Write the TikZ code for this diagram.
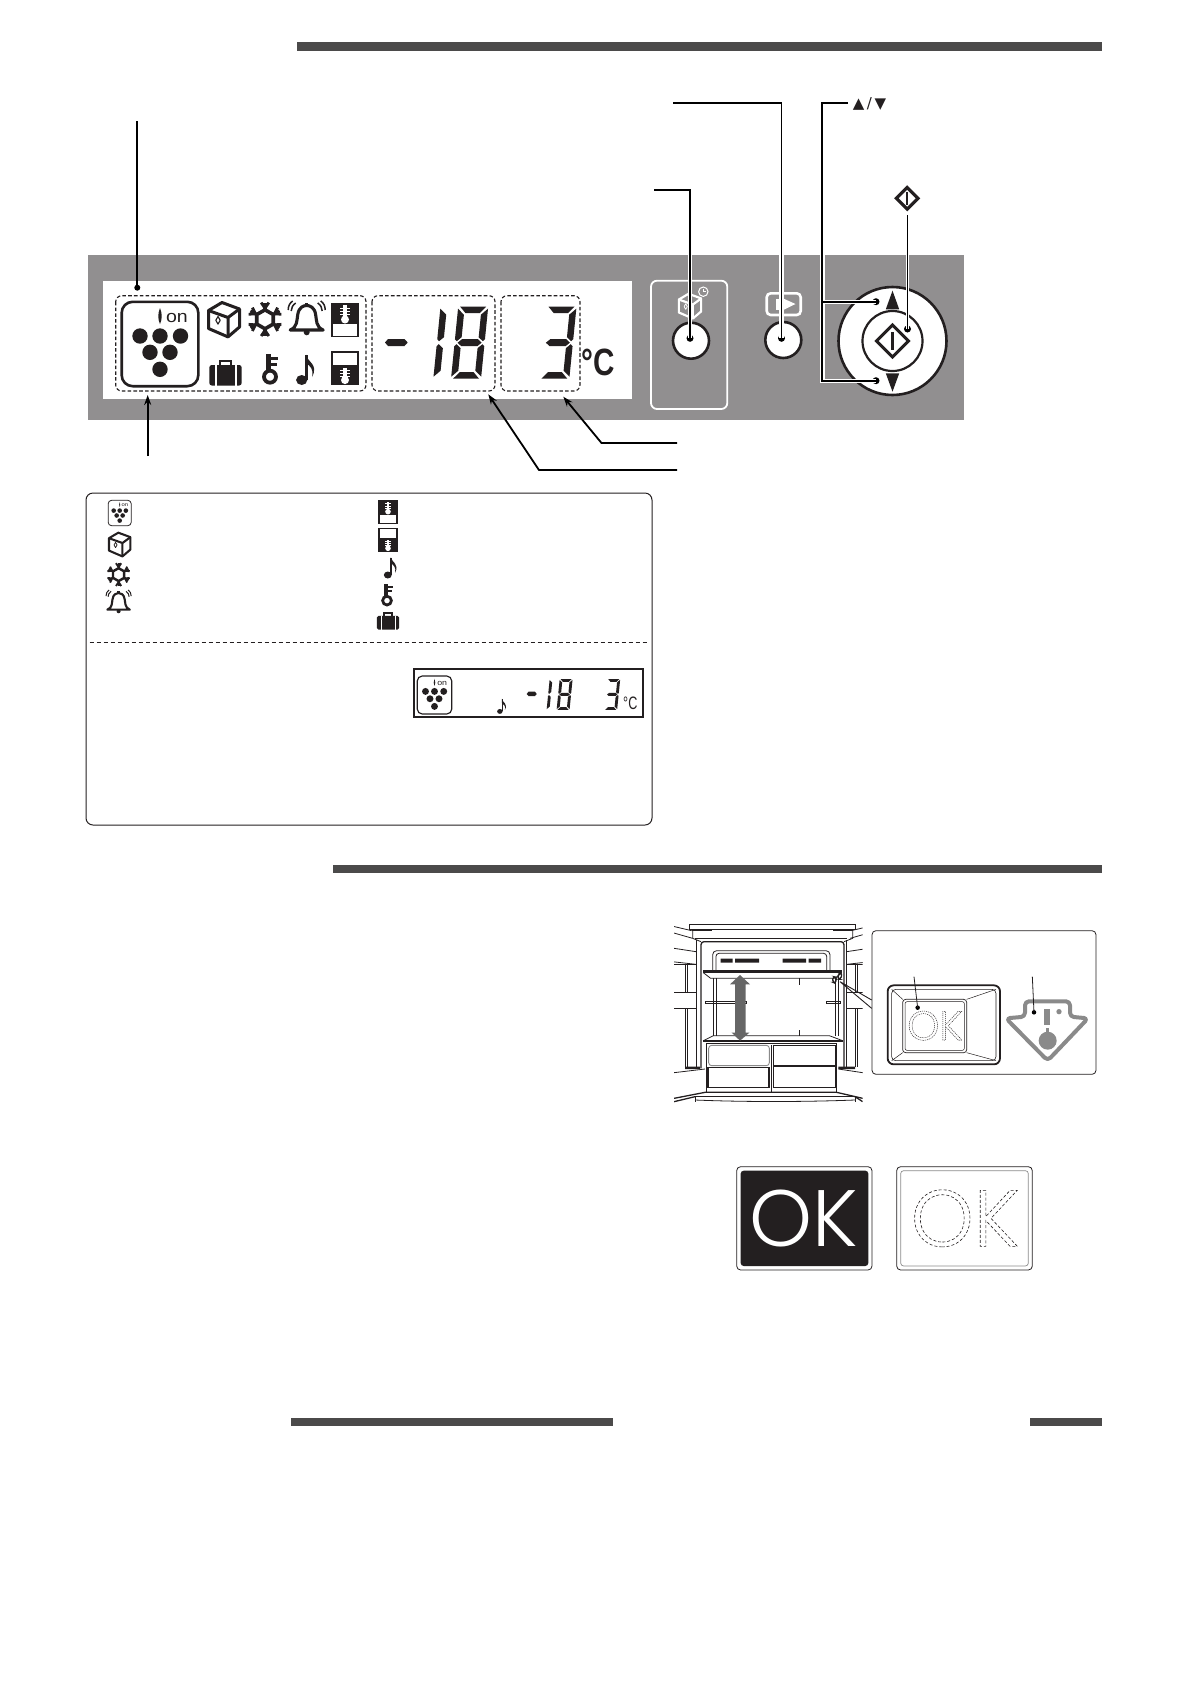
\documentclass[tikz,border=0pt]{standalone}
\usepackage{fontspec}
\setmainfont{Liberation Sans}
\newfontfamily\djv{DejaVu Sans}
\newfontfamily\okfont[UprightFont={* Light}]{Poppins}
\usetikzlibrary{arrows.meta,calc}
\definecolor{ink}{HTML}{231F20}
\definecolor{panelgrey}{HTML}{918F90}
\definecolor{barcol}{HTML}{4B4A4A}
\definecolor{midgrey}{HTML}{8A8A8A}
\definecolor{arrowgrey}{HTML}{666666}
\tikzset{
  leader/.style={draw=black,line width=1.8pt},
  halo/.style={draw=white,line width=4.4pt},
  dotnode/.style={circle,fill=black,inner sep=0pt,minimum size=7pt},
  dashbox/.style={draw=ink,line width=1.1pt,dash pattern=on 3.6pt off 2.2pt,rounded corners=6pt},
  pointer/.style={draw=black,line width=1.8pt,-{Stealth[length=10pt,width=7pt]}},
  bar/.style={fill=barcol,draw=none},
  fr/.style={draw=ink,line width=.8pt},
  frt/.style={draw=ink,line width=1.3pt},
}
% seven segments, height 72 width 30
\newcommand{\sega}{\fill (2,0)--(28,0)--(22,6.5)--(8,6.5)--cycle;}
\newcommand{\segg}{\fill (3,36)--(7,32.5)--(23,32.5)--(27,36)--(23,39.5)--(7,39.5)--cycle;}
\newcommand{\segd}{\fill (2,72)--(28,72)--(22,65.5)--(8,65.5)--cycle;}
\newcommand{\segf}{\fill (0,2)--(6.5,8)--(6.5,30.5)--(2,34.5)--(0,32.5)--cycle;}
\newcommand{\segb}{\fill (30,2)--(23.5,8)--(23.5,30.5)--(28,34.5)--(30,32.5)--cycle;}
\newcommand{\sege}{\fill (0,39.5)--(2,37.5)--(6.5,41.5)--(6.5,64)--(0,70)--cycle;}
\newcommand{\segc}{\fill (30,39.5)--(28,37.5)--(23.5,41.5)--(23.5,64)--(30,70)--cycle;}
\newcommand{\digitsegs}[4]{\begin{scope}[shift={(#1,#2)},scale=#3,xslant=.1,fill=ink]
  \foreach \g in {#4}{\csname seg\g\endcsname}\end{scope}}
% icons
\newcommand{\Igrape}[3]{\begin{scope}[shift={(#1,#2)},scale=#3]
  \draw[ink,line width=#3*2.6pt,rounded corners=#3*11pt] (-38.3,-42.2) rectangle (38.3,42.2);
  \foreach \p in {(-20,-8),(0,-8),(20.5,-8),(-10,8.3),(10,8.3),(0,25.3)}{\fill[ink] \p circle (7.7);}
  \fill[ink] (0,-36) .. controls (2.6,-30) and (2,-24) .. (0,-20) .. controls (-2,-24) and (-2.6,-30) .. (0,-36) -- cycle;
  \node[transform shape,xscale=1.15,inner sep=0,text=ink,font=\fontsize{17}{17}\selectfont] at (17,-26) {on};
\end{scope}}
\newcommand{\Ibox}[4]{\begin{scope}[shift={(#1,#2)},scale=#3,line join=round]
  \draw[#4,line width=#3*3pt] (-2,-17)--(15.5,-10.5)--(15.5,7.5)--(4,17.4)--(-15.5,9)--(-15.5,-9)--cycle;
  \draw[#4,line width=#3*3pt] (-15.5,-9)--(4,-2)--(15.5,-10.5) (4,-2)--(4,17.4);
  \draw[#4,line width=#3*1.1pt] (-6,-3)--(-3.8,.8)--(-6,4.6)--(-8.2,.8)--cycle;
\end{scope}}
\newcommand{\Isnow}[3]{\begin{scope}[shift={(#1,#2)},scale=#3]
  \draw[ink,line width=#3*3.6pt] (30:9.5)--(90:9.5)--(150:9.5)--(210:9.5)--(270:9.5)--(330:9.5)--cycle;
  \foreach \a in {30,90,150,210,270,330}{
    \draw[ink,line width=#3*3.2pt] (\a:9)--(\a:16.8);
    \draw[ink,line width=#3*2.8pt] ($(\a:13.5)+(\a+50:5)$)--(\a:11)--($(\a:13.5)+(\a-50:5)$);
  }
\end{scope}}
\newcommand{\Ibell}[3]{\begin{scope}[shift={(#1,#2)},scale=#3,line join=round]
  \draw[ink,line width=#3*3.1pt] (-16.5,12) .. controls (-9,9) and (-10,2) .. (-9,-3) .. controls (-8,-11) and (-3,-12.5) .. (0,-12.5) .. controls (3,-12.5) and (8,-11) .. (9,-3) .. controls (10,2) and (9,9) .. (16.5,12) -- cycle;
  \draw[ink,line width=#3*3.4pt] (0,-12.5)--(0,-15.5);
  \fill[ink] (0,14.3) circle (3);
  \draw[ink,line width=#3*1.5pt] (-11,-15) .. controls (-14,-13) and (-15.5,-10) .. (-15.5,-7)
     (-14,-17) .. controls (-17,-15) and (-18.5,-12) .. (-18.5,-8)
     (11,-15) .. controls (14,-13) and (15.5,-10) .. (15.5,-7)
     (14,-17) .. controls (17,-15) and (18.5,-12) .. (18.5,-8);
\end{scope}}
\newcommand{\Ithermup}[3]{\begin{scope}[shift={(#1,#2)},scale=#3]
  \draw[ink,line width=#3*1.8pt] (-13,3) rectangle (13,16.5);
  \fill[ink] (-13.9,-17) rectangle (13.9,3.5);
  \fill[white] (-1.7,-15) rectangle (1.7,0);
  \foreach \yy in {-12.5,-9.2,-5.9}{\fill[white] (-4.6,\yy) rectangle (4.6,\yy+1.3);}
  \fill[white] (0,-.5) circle (4);
\end{scope}}
\newcommand{\Ithermdown}[3]{\begin{scope}[shift={(#1,#2)},scale=#3]
  \draw[ink,line width=#3*1.8pt] (-13,-16.5) rectangle (13,-2);
  \fill[ink] (-13.9,-2) rectangle (13.9,17);
  \fill[white] (-1.7,0) rectangle (1.7,12);
  \foreach \yy in {1.2,4.5,7.8}{\fill[white] (-4.6,\yy) rectangle (4.6,\yy+1.3);}
  \fill[white] (0,11.8) circle (4);
\end{scope}}
\newcommand{\Icase}[3]{\begin{scope}[shift={(#1,#2)},scale=#3]
  \fill[ink,rounded corners=#3*2.5pt] (-16.2,-7) rectangle (16.2,13.5);
  \draw[ink,line width=#3*2.6pt] (-5.5,-7)--(-5.5,-11)--(5.5,-11)--(5.5,-7);
  \draw[white,line width=#3*1.7pt] (-9.5,-7)--(-9.5,13.5) (10.5,-7)--(10.5,13.5);
\end{scope}}
\newcommand{\Ikey}[3]{\begin{scope}[shift={(#1,#2)},scale=#3]
  \draw[ink,line width=#3*3.8pt] (0,7.7) circle (6);
  \draw[ink,line width=#3*5pt] (-1.3,-14.7)--(-1.3,3);
  \draw[ink,line width=#3*3pt] (0,-10.7)--(8,-10.7) (0,-5)--(6.5,-5);
\end{scope}}
\newcommand{\Inote}[3]{\begin{scope}[shift={(#1,#2)},scale=#3]
  \fill[ink] (-.3,10) ellipse (5.6 and 5);
  \draw[ink,line width=#3*2.6pt] (4.6,10)--(4.6,-15);
  \fill[ink] (4,-15.5) .. controls (5,-8) and (17,-6) .. (10,7) .. controls (12,-1) and (8,-4) .. (4,-7) -- cycle;
\end{scope}}
\newcommand{\okoutline}[1]{\special{pdf:code q 1 Tr #1}OK\special{pdf:code Q}}
\begin{document}
\begin{tikzpicture}[x=1pt,y=-1pt]
\useasboundingbox (0,0) rectangle (1186,1690);
% section bars
\fill[bar] (297,42.3) rectangle (1102,50.7);
\fill[bar] (333,865) rectangle (1102,873);
\fill[bar] (291,1417.5) rectangle (612.5,1426);
\fill[bar] (1030,1417.5) rectangle (1102,1426);
% panel
\fill[panelgrey] (88,255) rectangle (964,420);
\fill[white] (103,281) rectangle (632,399);
\draw[dashbox] (115.7,295.7) rectangle (366,391);
\draw[dashbox] (372,295.7) rectangle (495,391);
\draw[dashbox] (501,295.7) rectangle (580,391);
\Igrape{160}{344}{1}
\Ibox{224}{319.5}{1}{ink}
\Isnow{265}{319.3}{1}
\Ibell{306.7}{318}{1}
\Ithermup{345}{320}{1}
\Ithermdown{345}{368.3}{1}
\Icase{225.5}{372}{1}
\Ikey{270}{369}{1}
\Inote{302}{370}{1}
\fill[ink] (385,342.5)--(388,339)--(404.5,339)--(407.7,342.5)--(404.5,346)--(388,346)--cycle;
\digitsegs{440.5}{306.7}{1}{f,e}
\digitsegs{458.2}{306.7}{1}{a,b,c,d,e,f,g}
\digitsegs{546.5}{306.7}{1}{a,b,c,d,g}
\node[inner sep=0,text=ink,transform shape,xscale=.78,font=\bfseries\fontsize{38}{38}\selectfont] (degc) at (598,362) {°C};
% white control frame and icons
\draw[white,line width=1.8pt,rounded corners=6pt] (651,280.7) rectangle (727.3,409);
\Ibox{690}{306}{.72}{white}
\draw[white,line width=1pt] (703.3,291.7) circle (4.7);
\draw[white,line width=.8pt] (703.3,288.7)--(703.3,291.7)--(705.6,291.7);
\draw[white,line width=2.6pt,rounded corners=4pt] (766.7,293.3) rectangle (800.7,315);
\fill[white] (783.3,298.5)--(795.5,304)--(783.3,310)--cycle;
\fill[white] (775.5,298.5) rectangle (778.5,310);
% buttons
\node[circle,draw=ink,fill=white,line width=2.6pt,minimum size=36pt,inner sep=0] (btnA) at (691,340.7) {};
\node[circle,draw=ink,fill=white,line width=2.6pt,minimum size=36pt,inner sep=0] (btnB) at (783.3,340) {};
\node[circle,draw=ink,fill=white,line width=2.6pt,minimum size=108pt,inner sep=0] (dial) at (892.5,341) {};
\node[circle,draw=ink,fill=white,line width=2.2pt,minimum size=60pt,inner sep=0] (dialin) at (892.5,341) {};
\draw[ink,line width=3pt,line join=miter] (892.5,325)--(908.5,341)--(892.5,357)--(876.5,341)--cycle;
\draw[ink,line width=2.2pt] (892.5,332)--(892.5,350);
\fill[ink] (892.5,290.7)--(899.2,309.3)--(885.8,309.3)--cycle;
\fill[ink] (892.5,391.7)--(899.2,373.3)--(885.8,373.3)--cycle;
% leader anchors
\node[dotnode] (dA) at (690,338.3) {};
\node[dotnode] (dB) at (781.5,338.3) {};
\node[dotnode] (dUp) at (876,301.7) {};
\node[dotnode] (dDn) at (876,380.7) {};
\node[dotnode] (dSt) at (907.5,329) {};
\node[dotnode,minimum size=6pt] (dIcon) at (137.3,287.7) {};
\coordinate (sIcon) at (137.3,121);
\coordinate (sA) at (654,190.3);
\coordinate (sB) at (673,102.7);
\coordinate (sUD) at (848,102.7);
\coordinate (jTop) at (822.3,102.7);
\coordinate (jUp) at (822.3,301.7);
\coordinate (jDn) at (822.3,380.7);
\coordinate (sSt) at (907.5,215);
% halos over the panel
\begin{scope}
\clip (88,255) rectangle (964,420);
\draw[halo] (sA) -| (dA.center);
\draw[halo] (sB) -| (dB.center);
\draw[halo] (jTop) -- (jDn) -- (dDn.center);
\draw[halo] (jUp) -- (dUp.center);
\draw[halo,line width=3pt] (sSt) -- (dSt.center);
\end{scope}
\draw[leader] (sIcon) -- (dIcon.center);
\draw[leader] (sA) -| (dA.center);
\draw[leader] (sB) -| (dB.center);
\draw[leader] (sUD) -- (jTop) -- (jDn) -- (dDn.center);
\draw[leader] (jUp) -- (dUp.center);
\draw[leader] (sSt) -- (dSt.center);
\node[inner sep=0,text=ink,font=\djv\fontsize{15}{15}\selectfont] (updown) at (869.5,104) {▲\,/\,▼};
% start symbol above the dial
\draw[ink,line width=3.2pt] (907.2,187.5)--(918,198.3)--(907.2,209.1)--(896.4,198.3)--cycle;
\draw[ink,line width=2.2pt] (907.2,192)--(907.2,204.6);
% pointers into the display
\coordinate (sG) at (147.7,456);
\coordinate (tG) at (147.7,395);
\draw[pointer] (sG) -- (tG);
\coordinate (e3) at (677,443);
\coordinate (k3) at (601.5,443);
\coordinate (t3) at (563.3,396.7);
\draw[pointer] (e3) -- (k3) -- (t3);
\coordinate (e18) at (677,470);
\coordinate (k18) at (539,470);
\coordinate (t18) at (488.3,394.3);
\draw[pointer] (e18) -- (k18) -- (t18);
% legend
\draw[ink,line width=1pt,rounded corners=7pt] (86,493) rectangle (652,825);
\draw[ink,line width=.9pt,dash pattern=on 4pt off 3pt] (89.5,642.5)--(647,642.5);
\Igrape{119.7}{513}{.3}
\Ibox{119.7}{544.4}{.69}{ink}
\Isnow{118.6}{574.6}{.68}
\Ibell{118.6}{601.5}{.68}
\Ithermup{388}{512}{.7}
\Ithermdown{388}{540}{.7}
\Inote{388}{568}{.7}
\Ikey{387}{595}{.73}
\Icase{388}{620.5}{.68}
% mini display
\draw[ink,line width=2pt] (414,668.7) rectangle (642.5,717);
\Igrape{434.5}{695}{.45}
\Inote{500}{706.5}{.49}
\fill[ink] (526.7,694)--(528.5,691.7)--(535,691.7)--(536.7,694)--(535,696)--(528.5,696)--cycle;
\digitsegs{549.7}{679}{.43}{f,e}
\digitsegs{559.7}{679}{.43}{a,b,c,d,e,f,g}
\digitsegs{607.3}{679}{.43}{a,b,c,d,g}
\node[inner sep=0,text=ink,transform shape,xscale=.7,font=\fontsize{18}{18}\selectfont] (degm) at (630.3,703.5) {°C};
% fridge (coordinates of a 3x view)
\begin{scope}[shift={(670,920)},scale=1/3]
\begin{scope}
\clip (12,0) rectangle (578,560);
\draw[fr] (58,14) rectangle (555,27);
\draw[frt] (65,30)--(125,30) (488,30)--(548,30);
\draw[fr] (68,30)--(68,55)--(93,65) (548,30)--(548,55)--(522,65);
\draw[fr] (75,55)--(530,55);
\draw[frt,rounded corners=3pt] (93,445)--(93,65)--(522,65)--(522,445);
\draw[fr,rounded corners=4pt] (128,150)--(128,92)--(480,92)--(480,150);
\draw[fr,rounded corners=3pt] (138,150)--(138,100)--(470,100)--(470,150);
\fill[ink] (152,116) rectangle (188,128) (195,116) rectangle (267,128) (338,116) rectangle (408,128) (416,116) rectangle (453,128);
\draw[fr] (100,158)--(122,175)--(495,175)--(515,158);
\draw[frt,line width=1.6pt] (100,153)--(515,153);
\draw[fr] (100,158)--(515,158);
\draw[frt] (130,175)--(130,347) (140,175)--(140,347);
\draw[fr] (497,175)--(497,347) (505,175)--(505,347);
\draw[fr] (106,243) rectangle (228,250) (470,243) rectangle (512,250);
\draw[fr] (388,175)--(388,195) (388,330)--(388,347);
\draw[fr] (130,347)--(478,347)--(518,362) (100,362)--(130,347);
\draw[frt,line width=1.8pt] (100,362)--(518,362);
\fill[arrowgrey] (210,165)--(240,193)--(227,193)--(227,338)--(238,338)--(210,362)--(185,338)--(195,338)--(195,193)--(180,193)--cycle;
\draw[fr] (108,370)--(108,515) (500,370)--(500,515) (108,370)--(500,370);
\draw[frt] (305,375)--(305,515);
\draw[midgrey,line width=.9pt,rounded corners=3pt] (116,376) rectangle (298,437);
\draw[frt] (114,442) rectangle (297,503);
\draw[fr] (309,375) rectangle (497,435);
\draw[fr] (309,440) rectangle (497,503);
\draw[fr] (12,458)--(105,447) (578,458)--(505,447);
\draw[frt] (12,535)--(105,517)--(500,517)--(578,535);
\draw[frt] (12,545)--(75,530) (578,545)--(555,530);
\draw[fr] (75,530)--(555,530) (75,530)--(75,545) (555,530)--(555,545);
\draw[fr] (75,540) .. controls (220,546) and (400,546) .. (555,540);
\fill[ink] (45,440) rectangle (90,447) (505,440) rectangle (555,447);
\foreach \sc/\sh in {1/0,-1/608}{
\begin{scope}[shift={(\sh,0)},xscale=\sc]
  \draw[fr] (-20,12)--(65,32) (-20,30)--(68,55) (-20,80)--(78,95) (-20,122)--(78,133);
  \draw[fr] (45,135)--(45,218) (45,265)--(45,440) (52,135)--(52,218) (52,265)--(52,440);
  \draw[fr] (80,60)--(80,445);
  \draw[fr] (-20,218)--(78,218) (-20,265)--(78,265);
  \draw[fr] (-20,132)--(78,132);
\end{scope}}
\end{scope}
\draw[frt,rounded corners=2pt] (490,170)--(500,172)--(496,190)--(487,186)--cycle;
\draw[frt,rounded corners=2pt] (505,160)--(516,160)--(512,178)--(504,178)--cycle;
\coordinate (clipEnd) at (510,185);
\coordinate (pa) at (605,240);
\coordinate (pb) at (605,265);
\draw[ink,line width=.9pt] (clipEnd)--(pa) (clipEnd)--(pb);
\end{scope}
\begin{scope}[shift={(660,910)},scale=1/3]
% callout box
\draw[ink,line width=.8pt,rounded corners=4pt] (636,62) rectangle (1308,493);
\draw[ink,line width=1.8pt,rounded corners=6pt] (683,226) rectangle (1020,463);
\draw[ink,line width=.6pt,rounded corners=4pt] (695,238) rectangle (1008,452);
\draw[ink,line width=.7pt,rounded corners=3pt] (728,268) rectangle (920,428);
\draw[ink,line width=.5pt,rounded corners=2pt] (735,275) rectangle (913,421);
\draw[ink,line width=.5pt] (695,238)--(728,268) (1008,238)--(920,268) (695,452)--(728,428) (1008,452)--(920,428);
\node[inner sep=0,text=ink,font=\okfont\fontsize{41}{41}\selectfont] (okS) at (825,347) {\okoutline{0.45 w [1.1 0.9] 0 d}};
\node[dotnode,minimum size=4.5pt] (dOk) at (773,293) {};
\coordinate (sOk) at (762,200);
\draw[ink,line width=.8pt] (sOk)--(dOk.center);
\draw[midgrey,line width=4pt,line join=round,rounded corners=4pt] (1095,320)--(1095,274)--(1230,274)--(1230,320)--(1284,325)--(1163,452)--(1038,325)--cycle;
\fill[midgrey] (1153,298) rectangle (1170,345);
\fill[midgrey] (1158,355) rectangle (1168,370);
\fill[midgrey] (1163,392) circle (27);
\fill[midgrey] (1197,305) circle (8);
\node[dotnode,minimum size=4.5pt] (dWarn) at (1122,307) {};
\coordinate (sWarn) at (1117,200);
\draw[ink,line width=.8pt] (sWarn)--(dWarn.center);
\end{scope}
% OK indicators
\begin{scope}[shift={(720,1150)},scale=1/3]
\draw[ink,line width=.8pt,rounded corners=4pt] (50,50) rectangle (456,360);
\fill[ink,rounded corners=3pt] (62,62) rectangle (445,348);
\node[inner sep=0,text=white,font=\okfont\fontsize{80}{80}\selectfont] (okOn) at (252,205) {OK};
\draw[ink,line width=.8pt,rounded corners=4pt] (530,50) rectangle (937,360);
\draw[midgrey,line width=.7pt,rounded corners=3pt] (542,62) rectangle (925,348);
\node[inner sep=0,text=ink,font=\okfont\fontsize{80}{80}\selectfont] (okOff) at (735,205) {\okoutline{0.6 w [3 2] 0 d}};
\end{scope}
\end{tikzpicture}
\end{document}
